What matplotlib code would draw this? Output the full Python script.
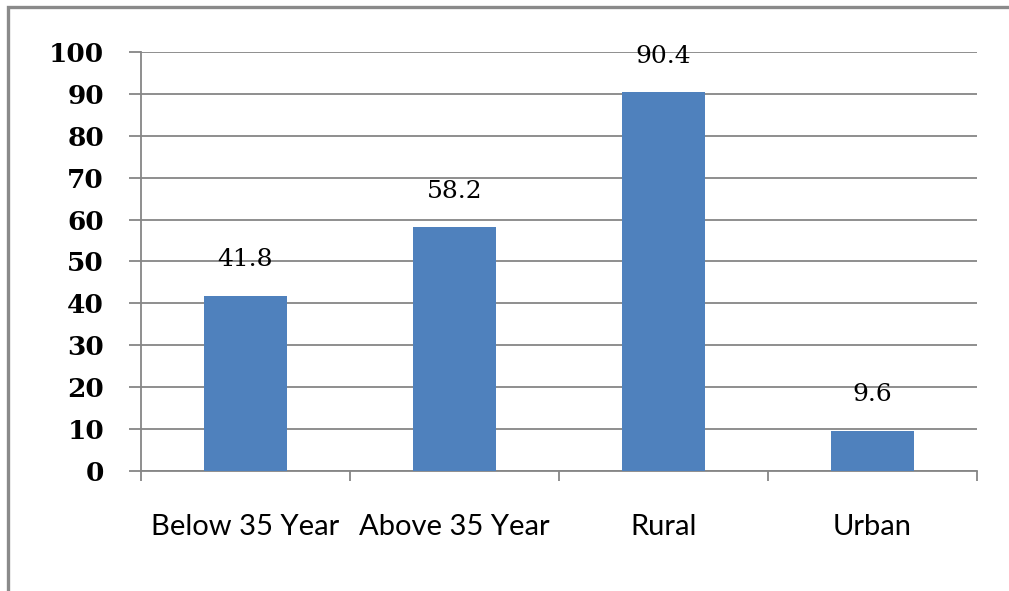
import matplotlib.pyplot as plt
from matplotlib.patches import Rectangle
from matplotlib.ticker import FixedLocator

# chart data
categories = ["Below 35 Year", "Above 35 Year", "Rural", "Urban"]
values = [41.8, 58.2, 90.4, 9.6]
yticks = [0, 10, 20, 30, 40, 50, 60, 70, 80, 90, 100]

fig = plt.figure(figsize=(10.09, 5.91), dpi=100)
ax = fig.add_axes([141 / 1009, 1 - 471 / 591, 836 / 1009, 419 / 591])

grid_col = "#868686"
x = range(len(categories))
ax.bar(x, values, width=0.4, color="#4F81BD", zorder=3)

ax.set_xlim(-0.5, len(categories) - 0.5)
ax.set_ylim(0, 100)
ax.set_yticks(yticks)
ax.yaxis.grid(True, color=grid_col, linewidth=1.3, zorder=0)

for sp in ["top", "right"]:
    ax.spines[sp].set_visible(False)
for sp in ["left", "bottom"]:
    ax.spines[sp].set_color(grid_col)
    ax.spines[sp].set_linewidth(1.3)

# y labels: bold serif
ax.tick_params(axis="y", direction="out", length=8.6, width=1.3, color=grid_col, pad=18)
for t in ax.get_yticklabels():
    t.set_fontfamily("DejaVu Serif")
    t.set_fontweight("bold")
    t.set_fontsize(19)

# x labels at centres, tick marks at category boundaries
ax.set_xticks(list(x))
ax.set_xticklabels(categories, fontfamily="Lato", fontsize=21)
ax.tick_params(axis="x", which="major", length=0, pad=31)
ax.xaxis.set_minor_locator(FixedLocator([i - 0.5 for i in range(len(categories) + 1)]))
ax.tick_params(axis="x", which="minor", direction="out", length=7.5, width=1.3, color=grid_col)

for i, v in enumerate(values):
    ax.annotate(f"{v}", (i, v), xytext=(0, 26), textcoords="offset points",
                ha="center", va="center", fontsize=18, fontfamily="DejaVu Serif",
                zorder=4)

# outer frame of the picture
fig.patches.append(Rectangle((8 / 1009, -0.05), 1.2, 1 - 7 / 591 + 0.05,
                             transform=fig.transFigure, fill=False,
                             edgecolor="#8a8a8a", linewidth=2.4))

fig.savefig("out.png", dpi=100)
